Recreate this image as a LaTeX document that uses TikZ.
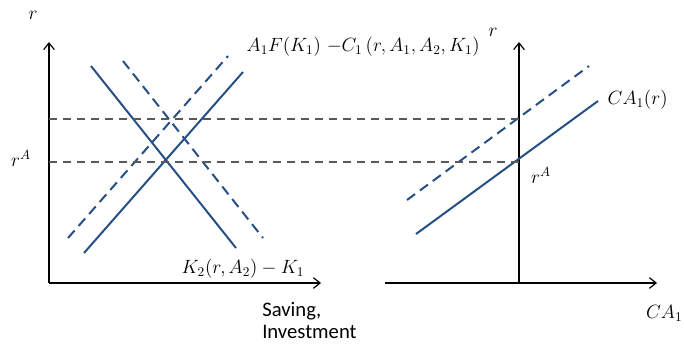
\documentclass[tikz,border=0pt]{standalone}
\usepackage{fontspec}
\newfontfamily\labelfont{Carlito}
\usetikzlibrary{arrows.meta}
\definecolor{curveblue}{RGB}{37,79,133}
\definecolor{guidegray}{RGB}{89,89,89}

\begin{document}
\begin{tikzpicture}[x=0.75pt,y=-0.75pt,
  axis/.style={line width=0.9pt,-{Straight Barb[length=5pt,width=8pt]}},
  curve/.style={curveblue,line width=1.5pt},
  shifted/.style={curve,dash pattern=on 7.5pt off 4.5pt},
  guide/.style={guidegray,line width=1.1pt,dash pattern=on 6pt off 4.5pt},
  lbl/.style={font=\fontsize{13.6}{16}\selectfont}]
\useasboundingbox (0,0) rectangle (684,343);
% left panel: saving and investment
\coordinate (lo) at (49,283);
\coordinate (ltop) at (49,42);
\coordinate (lend) at (321,283);
\draw[axis] (lo) -- (ltop);
\draw[axis] (lo) -- (lend);
\node[lbl] (rleft) at (33,15) {$r$};
\node[lbl] (rAleft) at (21,158) {$r^A$};
\node[font=\labelfont\fontsize{15.5}{16.5}\selectfont,anchor=base west,align=left,inner sep=0pt] (sav) at (262,338) {Saving,\\Investment};
% saving curves
\coordinate (s0) at (84,253);
\coordinate (s1) at (243,72);
\coordinate (s2) at (68,238);
\coordinate (s3) at (228,56);
\draw[curve] (s0) -- (s1);
\draw[shifted] (s2) -- (s3);
% investment curves
\coordinate (i0) at (91,66);
\coordinate (i1) at (236,248);
\coordinate (i2) at (123,61);
\coordinate (i3) at (263,238);
\draw[curve] (i0) -- (i1);
\draw[shifted] (i2) -- (i3);
\node[lbl,anchor=west] (slabel) at (242,47) {$A_1F(K_1)\ {-}C_1\,(r,A_1,A_2,K_1)$};
\node[lbl] (ilabel) at (243,269) {$K_2(r,A_2)-K_1$};
% right panel: current account
\coordinate (ro) at (519,283);
\coordinate (rtop) at (519,42);
\coordinate (rleftend) at (385,283);
\coordinate (rend) at (657,283);
\draw[axis] (ro) -- (rtop);
\draw[axis] (rleftend) -- (rend);
\node[lbl] (rright) at (493,32) {$r$};
\node[lbl,anchor=east,inner sep=1pt] (caaxis) at (684,313) {$CA_1$};
\coordinate (c0) at (416,234);
\coordinate (c1) at (598,101);
\coordinate (c2) at (407,200);
\coordinate (c3) at (589,66);
\draw[curve] (c0) -- (c1);
\draw[shifted] (c2) -- (c3);
\node[lbl,anchor=west] (calabel) at (603,100) {$CA_1(r)$};
\node[lbl] (rAright) at (541,175) {$r^A$};
% interest rate guides
\coordinate (g0) at (49,162);
\coordinate (g1) at (519,162);
\coordinate (g2) at (49,119);
\coordinate (g3) at (519,119);
\draw[guide] (g0) -- (g1);
\draw[guide] (g2) -- (g3);
\end{tikzpicture}
\end{document}
